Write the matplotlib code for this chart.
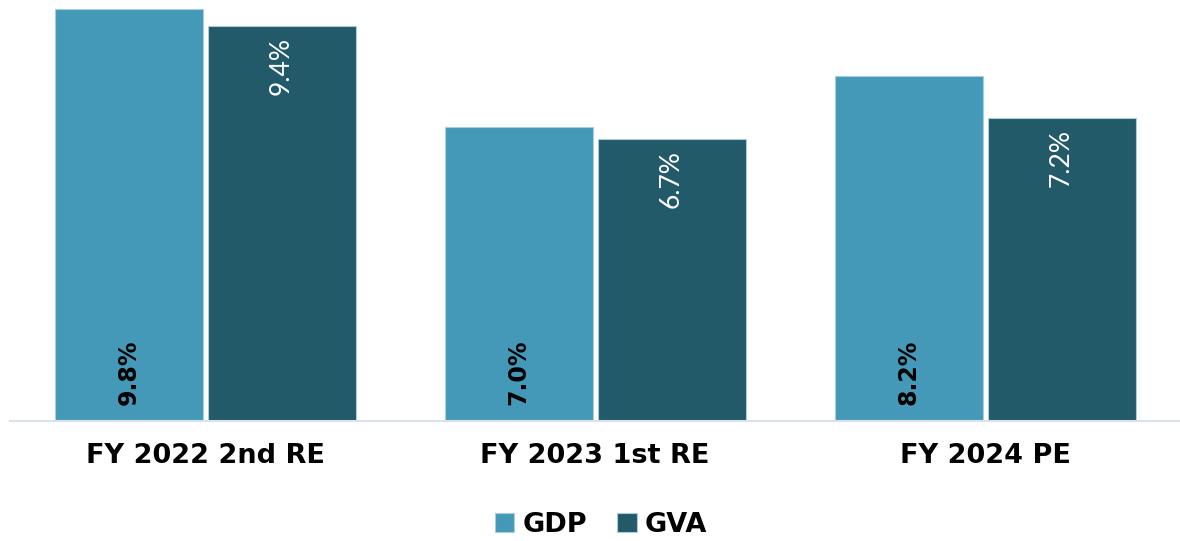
import matplotlib
matplotlib.use("Agg")
import matplotlib.pyplot as plt
import numpy as np

categories = ["FY 2022 2nd RE", "FY 2023 1st RE", "FY 2024 PE"]
gdp = [9.8, 7.0, 8.2]
gva = [9.4, 6.7, 7.2]
series_names = ["GDP", "GVA"]

c_gdp = "#4499B8"
c_gva = "#225A6A"
edge = "#A9CCE0"

plt.rcParams['font.family'] = ['Lato', 'DejaVu Sans']

fig = plt.figure(figsize=(11.8, 5.41), dpi=100)
ax = fig.add_axes([10/1180, 120/541, 1170/1180, 421/541])

x = np.arange(len(categories))
w = 148/390
off = 153/390/2
b1 = ax.bar(x - off, gdp, w, color=c_gdp, edgecolor=edge, linewidth=0.8, label=series_names[0])
b2 = ax.bar(x + off, gva, w, color=c_gva, edgecolor=edge, linewidth=0.8, label=series_names[1])

for xi, v in zip(x - off, gdp):
    ax.text(xi, 0.38, f"{v:.1f}%", rotation=90, ha="center", va="bottom",
            color="black", fontsize=17, fontweight="bold", fontfamily="DejaVu Sans")
for xi, v in zip(x + off, gva):
    ax.text(xi, v - 0.26, f"{v:.1f}%", rotation=90, ha="center", va="top",
            color="white", fontsize=19, fontfamily="Lato")

ax.set_xlim(-0.5, 2.5)
ax.set_ylim(0, 10.02)
ax.set_yticks([])
ax.set_xticks(x)
ax.set_xticklabels(categories, fontsize=19.5, fontweight="bold", fontfamily="DejaVu Sans")
ax.tick_params(axis="x", length=0, pad=16)
for s in ["top", "left", "right"]:
    ax.spines[s].set_visible(False)
ax.spines["bottom"].set_color("#D9E1EC")
ax.spines["bottom"].set_linewidth(1.5)

leg = fig.legend(handles=[b1, b2], labels=series_names, loc="center",
                 bbox_to_anchor=(601/1180, 1 - 525/541), ncol=2, frameon=False,
                 prop={"size": 19.5, "weight": "bold", "family": "DejaVu Sans"},
                 handlelength=0.72, handleheight=0.72,
                 handletextpad=0.3, columnspacing=1.1)

fig.savefig("out.png", dpi=100)
